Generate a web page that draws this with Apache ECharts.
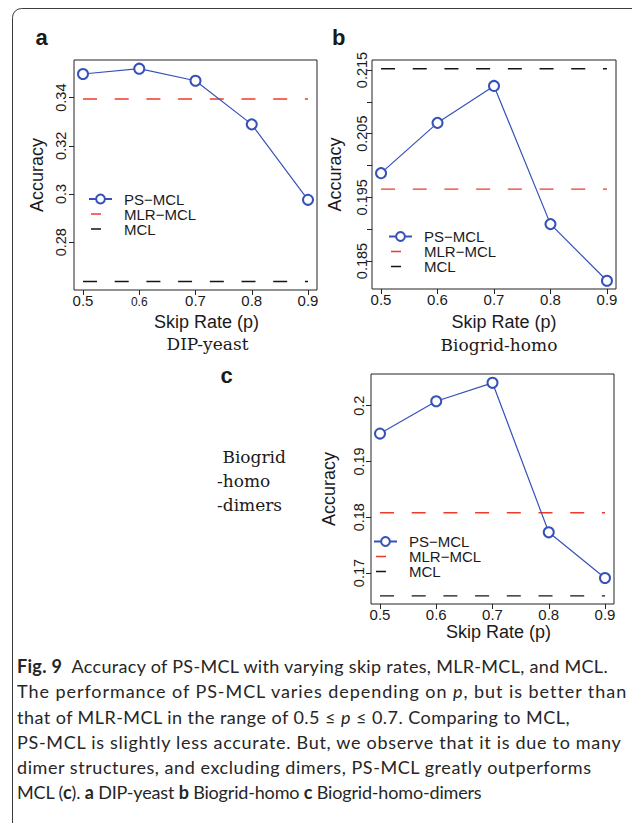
<!DOCTYPE html>
<html><head><meta charset="utf-8">
<script src="https://cdn.jsdelivr.net/npm/echarts@6/dist/echarts.min.js"></script>
<style>
html,body{margin:0;padding:0;background:#fff;}
#wrap{position:relative;width:632px;height:823px;overflow:hidden;background:#fff;}
#chart{position:absolute;left:0;top:0;width:632px;height:823px;}
#caption{position:absolute;left:17px;top:654px;font-family:Lato,"Liberation Sans",sans-serif;font-size:18px;line-height:25.3px;color:#262626;white-space:nowrap;}
#caption div{height:25.3px;}
</style></head><body>
<div id="wrap"><div id="chart"></div>
<div id="caption">
<div><span class="ln"><b>Fig. 9</b>&nbsp; Accuracy of PS-MCL with varying skip rates, MLR-MCL, and MCL.</span></div>
<div><span class="ln">The performance of PS-MCL varies depending on <i>p</i>, but is better than</span></div>
<div><span class="ln">that of MLR-MCL in the range of 0.5 &le; <i>p</i> &le; 0.7. Comparing to MCL,</span></div>
<div><span class="ln">PS-MCL is slightly less accurate. But, we observe that it is due to many</span></div>
<div><span class="ln">dimer structures, and excluding dimers, PS-MCL greatly outperforms</span></div>
<div><span class="ln">MCL (<b>c</b>). <b>a</b> DIP-yeast <b>b</b> Biogrid-homo <b>c</b> Biogrid-homo-dimers</span></div>
</div>
</div>
<script>
// ---- data ----
const skipRates = [0.5, 0.6, 0.7, 0.8, 0.9];
const xTickLabels = [0.5, 0.6, 0.7, 0.8, 0.9];
const seriesNames = ['PS\u2212MCL', 'MLR\u2212MCL', 'MCL'];

// (a) DIP-yeast
const dipPsMcl  = [0.3498, 0.3520, 0.3470, 0.3289, 0.2976];
const dipMlrMcl = [0.3394, 0.3394, 0.3394, 0.3394, 0.3394];
const dipMcl    = [0.2637, 0.2637, 0.2637, 0.2637, 0.2637];
const dipYTicks = [0.28, 0.30, 0.32, 0.34];
const dipYLabels = [0.28, 0.30, 0.32, 0.34];

// (b) Biogrid-homo
const homoPsMcl  = [0.1988, 0.2067, 0.2125, 0.1908, 0.1819];
const homoMlrMcl = [0.1963, 0.1963, 0.1963, 0.1963, 0.1963];
const homoMcl    = [0.2152, 0.2152, 0.2152, 0.2152, 0.2152];
const homoYTicks = [0.185, 0.19, 0.195, 0.2, 0.205, 0.21, 0.215];
const homoYLabels = [0.185, 0.195, 0.205, 0.215];

// (c) Biogrid-homo-dimers
const dimPsMcl  = [0.1950, 0.2008, 0.2041, 0.1773, 0.1691];
const dimMlrMcl = [0.1808, 0.1808, 0.1808, 0.1808, 0.1808];
const dimMcl    = [0.1659, 0.1659, 0.1659, 0.1659, 0.1659];
const dimYTicks = [0.17, 0.18, 0.19, 0.2];
const dimYLabels = [0.17, 0.18, 0.19, 0.2];

// ---- styling ----
const BLUE = '#3652b8', RED = '#ee3a2c', BLACK = '#151515', INK = '#1a1a1a';
const SANS = '"Liberation Sans", Arial, sans-serif';
const SERIF = '"DejaVu Serif", serif';
const DASH = [14, 17.7];
const dashIcon = 'path://M0,0L0.01,0L0,0.01Z M23,11L22.99,11L23,10.99Z M2,4.8L12,4.8L12,6.2L2,6.2Z';

const fmt = v => String(parseFloat(Number(v).toFixed(4)));
const pairs = ys => skipRates.map((x, i) => [x, ys[i]]);

const grids = [
  {left: 74, top: 60, width: 243, height: 230},
  {left: 372, top: 60, width: 244, height: 229},
  {left: 371, top: 374, width: 243, height: 230}
].map(g => Object.assign(g, {show: true, borderColor: '#222', borderWidth: 1, backgroundColor: 'transparent'}));

function xAxis(idx, nameGap, namePad, labelMargin, smallSix) {
  return {
    type: 'value', gridIndex: idx, min: 0.484, max: 0.916,
    axisLine: {show: false}, splitLine: {show: false},
    axisTick: {show: true, length: 5, customValues: xTickLabels, lineStyle: {color: '#222'}},
    axisLabel: {
      customValues: xTickLabels, margin: labelMargin, color: INK, fontFamily: SANS, fontSize: 15,
      formatter: v => (smallSix && Math.abs(v - 0.6) < 1e-9) ? '{s|' + fmt(v) + '}' : fmt(v),
      rich: {s: {fontSize: 12, fontFamily: SANS, color: INK, padding: [3, 0, 0, 0]}}
    },
    name: 'Skip Rate (p)', nameLocation: 'middle', nameGap: nameGap,
    nameTextStyle: {fontFamily: SANS, fontSize: 18, color: INK, lineHeight: 18, padding: [0, 0, 0, namePad]}
  };
}
function yAxis(idx, min, max, ticks, labels, labelMargin, nameGap) {
  return {
    type: 'value', gridIndex: idx, min: min, max: max,
    axisLine: {show: false}, splitLine: {show: false},
    axisTick: {show: true, length: 5, customValues: ticks, lineStyle: {color: '#222'}},
    axisLabel: {customValues: labels, rotate: 90, margin: labelMargin, color: INK, fontFamily: SANS, fontSize: 14.5, formatter: fmt},
    name: 'Accuracy', nameLocation: 'middle', nameRotate: 90, nameGap: nameGap,
    nameTextStyle: {fontFamily: SANS, fontSize: 18, color: INK, lineHeight: 18}
  };
}
function panelSeries(idx, ps, mlr, mcl) {
  return [
    {name: seriesNames[0], type: 'line', xAxisIndex: idx, yAxisIndex: idx, data: pairs(ps),
     symbol: 'emptyCircle', symbolSize: 10, lineStyle: {color: BLUE, width: 1.2},
     itemStyle: {color: BLUE, borderColor: BLUE, borderWidth: 1}, z: 3},
    {name: seriesNames[1], type: 'line', xAxisIndex: idx, yAxisIndex: idx, data: pairs(mlr),
     symbol: 'none', lineStyle: {color: RED, width: 1.4, type: DASH}, itemStyle: {color: RED}, z: 2},
    {name: seriesNames[2], type: 'line', xAxisIndex: idx, yAxisIndex: idx, data: pairs(mcl),
     symbol: 'none', lineStyle: {color: BLACK, width: 1.4, type: DASH}, itemStyle: {color: BLACK}, z: 2}
  ];
}
function legendAt(left, top) {
  return {
    orient: 'vertical', left: left, top: top, itemWidth: 23, itemHeight: 11, itemGap: 0,
    selectedMode: false, padding: 0,
    textStyle: {fontFamily: SANS, fontSize: 15, lineHeight: 15, color: INK, padding: [0, 0, 0, 7]},
    data: [
      {name: seriesNames[0], itemStyle: {borderWidth: 1}},
      {name: seriesNames[1], icon: dashIcon, itemStyle: {color: RED, borderWidth: 0}},
      {name: seriesNames[2], icon: dashIcon, itemStyle: {color: BLACK, borderWidth: 0}}
    ]
  };
}
function txt(x, y, text, font, align, extra) {
  return {type: 'text', x: x, y: y, silent: true,
    style: Object.assign({text: text, font: font, fill: INK, align: align || 'left', verticalAlign: 'middle'}, extra || {})};
}

const chart = echarts.init(document.getElementById('chart'), null, {renderer: 'svg', width: 632, height: 823});
chart.setOption({
  animation: false,
  backgroundColor: '#fff',
  grid: grids,
  xAxis: [xAxis(0, 23, 22, 3, true), xAxis(1, 23.5, 20, 3, false), xAxis(2, 18.5, 12, 3, false)],
  yAxis: [
    yAxis(0, 0.2602, 0.3556, dipYTicks, dipYLabels, 6, 28.5),
    yAxis(1, 0.18061, 0.21657, homoYTicks, homoYLabels, 3, 28),
    yAxis(2, 0.16445, 0.20568, dimYTicks, dimYLabels, 5, 33)
  ],
  legend: [legendAt(88, 191.5), legendAt(388, 229), legendAt(373, 534)],
  series: [].concat(
    panelSeries(0, dipPsMcl, dipMlrMcl, dipMcl),
    panelSeries(1, homoPsMcl, homoMlrMcl, homoMcl),
    panelSeries(2, dimPsMcl, dimMlrMcl, dimMcl)
  ),
  graphic: [
    {type: 'rect', silent: true, shape: {x: 12.5, y: 8.5, width: 800, height: 1000, r: [9, 0, 0, 0]},
     style: {fill: 'none', stroke: '#3c3c3c', lineWidth: 1}},
    txt(35.5, 37, 'a', 'bold 22px ' + SANS),
    txt(332, 37, 'b', 'bold 22px ' + SANS),
    txt(220.5, 375.6, 'c', 'bold 22px ' + SANS),
    txt(207.5, 344, 'DIP-yeast', '17px ' + SERIF, 'center'),
    txt(499, 344.5, 'Biogrid-homo', '17px ' + SERIF, 'center'),
    txt(217, 456.5, ' Biogrid', '17px ' + SERIF),
    txt(217, 480.5, '-homo', '17px ' + SERIF),
    txt(217, 505, '-dimers', '17px ' + SERIF)
  ]
});

// fit caption lines to the measured line lengths of the reference
const lineEnds = [608, 626.5, 570, 621.5, 591.5, 481.5];
document.querySelectorAll('#caption .ln').forEach((el, i) => {
  const w = el.getBoundingClientRect().width;
  const n = el.textContent.length;
  const target = lineEnds[i] - 17;
  el.style.letterSpacing = ((target - w) / n).toFixed(3) + 'px';
});
</script>
</body></html>
